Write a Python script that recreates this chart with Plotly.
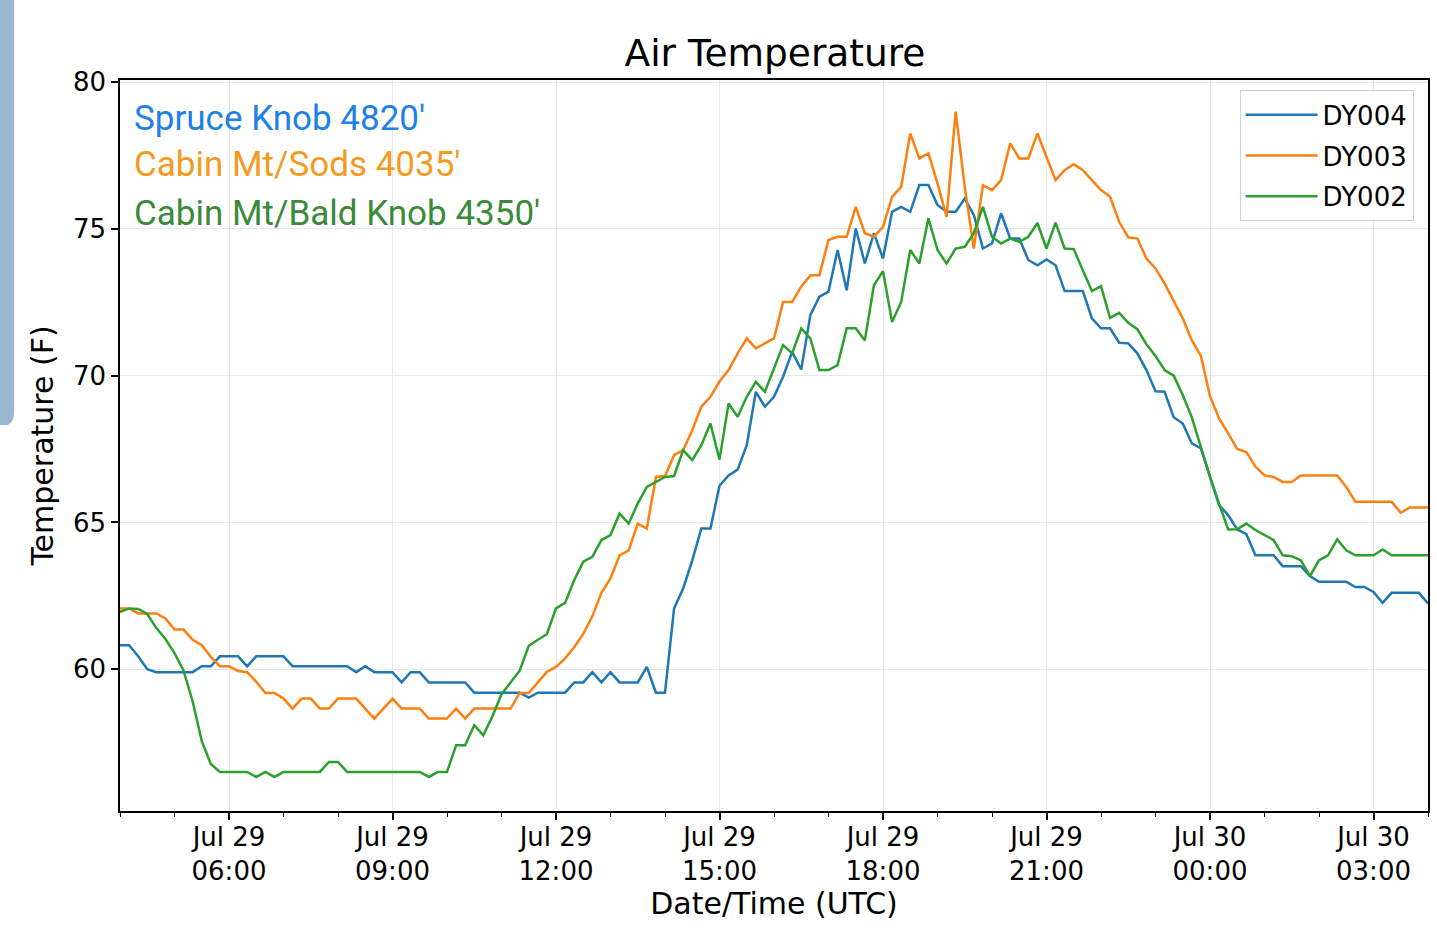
import pandas as pd
import plotly.graph_objs as go

# 10 minute readings, Jul 29 04:00 UTC -> Jul 30 04:00 UTC
start = "2019-07-29 04:00"
n_points = 145

# DY004 - Spruce Knob
dy004 = [60.82, 60.82, 60.44, 60.0, 59.9, 59.9, 59.9, 59.9, 59.9, 60.1, 60.1, 60.44,
         60.44, 60.44, 60.1, 60.44, 60.44, 60.44, 60.44, 60.1, 60.1, 60.1, 60.1, 60.1,
         60.1, 60.1, 59.9, 60.1, 59.9, 59.9, 59.9, 59.55, 59.9, 59.9, 59.55, 59.55,
         59.55, 59.55, 59.55, 59.2, 59.2, 59.2, 59.2, 59.2, 59.2, 59.03, 59.2, 59.2,
         59.2, 59.2, 59.55, 59.55, 59.9, 59.55, 59.9, 59.55, 59.55, 59.55, 60.08, 59.2,
         59.2, 62.07, 62.75, 63.71, 64.79, 64.79, 66.25, 66.6, 66.8, 67.63, 69.45, 68.94,
         69.28, 69.96, 70.81, 70.21, 72.06, 72.69, 72.86, 74.28, 72.91, 75.01, 73.82, 74.85,
         73.99, 75.58, 75.75, 75.58, 76.49, 76.49, 75.81, 75.58, 75.58, 76.03, 75.47, 74.33,
         74.5, 75.53, 74.67, 74.67, 73.94, 73.76, 73.96, 73.76, 72.88, 72.88, 72.88, 71.95,
         71.61, 71.61, 71.12, 71.1, 70.76, 70.19, 69.47, 69.45, 68.58, 68.37, 67.69, 67.52,
         66.55, 65.59, 65.25, 64.76, 64.6, 63.88, 63.88, 63.88, 63.51, 63.51, 63.51, 63.17,
         62.98, 62.98, 62.98, 62.98, 62.8, 62.8, 62.63, 62.26, 62.6, 62.6, 62.6, 62.6,
         62.24]

# DY003 - Cabin Mt/Sods
dy003 = [62.07, 62.07, 61.9, 61.9, 61.9, 61.73, 61.35, 61.35, 61.0, 60.82, 60.42, 60.1,
         60.1, 59.94, 59.9, 59.57, 59.19, 59.19, 59.0, 58.66, 59.0, 59.0, 58.66, 58.66,
         59.0, 59.0, 59.0, 58.66, 58.32, 58.66, 59.0, 58.66, 58.66, 58.66, 58.32, 58.32,
         58.32, 58.66, 58.32, 58.66, 58.66, 58.66, 58.66, 58.66, 59.19, 59.19, 59.55, 59.91,
         60.08, 60.37, 60.75, 61.2, 61.8, 62.6, 63.09, 63.88, 64.05, 64.96, 64.79, 66.55,
         66.58, 67.29, 67.46, 68.14, 68.94, 69.28, 69.8, 70.19, 70.76, 71.27, 70.93, 71.1,
         71.27, 72.51, 72.51, 73.03, 73.42, 73.42, 74.62, 74.73, 74.73, 75.75, 74.85, 74.73,
         75.07, 76.09, 76.43, 78.25, 77.4, 77.57, 76.55, 75.41, 78.99, 76.43, 74.33, 76.49,
         76.32, 76.66, 77.91, 77.4, 77.4, 78.25, 77.46, 76.66, 77.0, 77.2, 77.0, 76.66,
         76.32, 76.09, 75.24, 74.71, 74.67, 73.99, 73.65, 73.14, 72.57, 71.95, 71.2, 70.67,
         69.3, 68.54, 68.03, 67.5, 67.4, 66.9, 66.6, 66.55, 66.38, 66.38, 66.6, 66.6,
         66.6, 66.6, 66.6, 66.21, 65.7, 65.7, 65.7, 65.7, 65.7, 65.33, 65.51, 65.51,
         65.51]

# DY002 - Cabin Mt/Bald Knob
dy002 = [61.95, 62.07, 62.05, 61.88, 61.4, 61.03, 60.55, 59.95, 58.9, 57.55, 56.77, 56.5,
         56.5, 56.5, 56.5, 56.33, 56.5, 56.33, 56.5, 56.5, 56.5, 56.5, 56.5, 56.84,
         56.84, 56.5, 56.5, 56.5, 56.5, 56.5, 56.5, 56.5, 56.5, 56.5, 56.33, 56.5,
         56.5, 57.41, 57.41, 58.09, 57.75, 58.4, 59.15, 59.55, 59.95, 60.8, 61.0, 61.2,
         62.07, 62.26, 63.03, 63.66, 63.83, 64.4, 64.57, 65.3, 64.96, 65.64, 66.21, 66.38,
         66.55, 66.58, 67.46, 67.12, 67.63, 68.37, 67.14, 69.05, 68.6, 69.28, 69.79, 69.45,
         70.24, 71.04, 70.76, 71.61, 71.27, 70.19, 70.19, 70.36, 71.61, 71.61, 71.2, 73.08,
         73.56, 71.83, 72.51, 74.28, 73.82, 75.36, 74.28, 73.82, 74.33, 74.39, 74.85, 75.75,
         74.73, 74.5, 74.67, 74.56, 74.73, 75.2, 74.33, 75.21, 74.33, 74.31, 73.59, 72.88,
         73.05, 71.97, 72.14, 71.8, 71.58, 71.07, 70.67, 70.19, 70.0, 69.34, 68.58, 67.52,
         66.55, 65.64, 64.76, 64.77, 64.96, 64.74, 64.57, 64.4, 63.88, 63.85, 63.71, 63.17,
         63.71, 63.88, 64.42, 64.05, 63.88, 63.88, 63.88, 64.08, 63.88, 63.88, 63.88, 63.88,
         63.88]

x_tickvals = ["2019-07-29 06:00", "2019-07-29 09:00", "2019-07-29 12:00", "2019-07-29 15:00",
              "2019-07-29 18:00", "2019-07-29 21:00", "2019-07-30 00:00", "2019-07-30 03:00"]
x_ticktext = ["Jul 29<br>06:00", "Jul 29<br>09:00", "Jul 29<br>12:00", "Jul 29<br>15:00",
              "Jul 29<br>18:00", "Jul 29<br>21:00", "Jul 30<br>00:00", "Jul 30<br>03:00"]
y_tickvals = [60, 65, 70, 75, 80]

site_labels = ["Spruce Knob 4820'", "Cabin Mt/Sods 4035'", "Cabin Mt/Bald Knob 4350'"]
site_colors = ["#1e80e8", "#f59a1e", "#3a8a3a"]

times = pd.date_range(start, periods=n_points, freq="10min")

mpl_font = "DejaVu Sans"

traces = []
for name, vals, col in [("DY004", dy004, "#1f77b4"),
                        ("DY003", dy003, "#ff7f0e"),
                        ("DY002", dy002, "#2ca02c")]:
    traces.append(go.Scatter(x=times, y=vals, mode="lines", name=name, legendgroup=name,
                             line=dict(color=col, width=2.5)))

annotations = []
label_y = [0.948, 0.884, 0.818]
for txt, col, yy in zip(site_labels, site_colors, label_y):
    annotations.append(dict(text=txt, xref="paper", yref="paper", x=0.009, y=yy,
                            xanchor="left", yanchor="middle", showarrow=False,
                            font=dict(family="Roboto", size=35, color=col)))

layout = dict(
    width=1437, height=941,
    paper_bgcolor="white", plot_bgcolor="white",
    margin=dict(l=120, r=7, t=80, b=130),
    font=dict(family=mpl_font, size=26, color="black"),
    title=dict(text="Air Temperature", x=0.5393, xanchor="center", y=0.9437, yanchor="middle",
               font=dict(family=mpl_font, size=37.5, color="black")),
    xaxis=dict(
        title=dict(text="Date/Time (UTC)", font=dict(size=30), standoff=0),
        range=["2019-07-29 04:00", "2019-07-30 04:00"],
        tickmode="array", tickvals=x_tickvals, ticktext=x_ticktext,
        ticks="outside", ticklen=7, tickwidth=1.5, tickcolor="black",
        ticklabelstandoff=-5,
        minor=dict(tickmode="linear", tick0="2019-07-29 04:00", dtick=3600000,
                   ticks="outside", ticklen=4, tickwidth=1.2, tickcolor="black", showgrid=False),
        showline=True, linecolor="black", linewidth=1.5, mirror=True,
        showgrid=True, gridcolor="#e8e8e8", gridwidth=1.2, zeroline=False,
    ),
    yaxis=dict(
        title=dict(text="Temperature (F)", font=dict(size=30), standoff=10),
        range=[55.17, 80.07],
        tickmode="array", tickvals=y_tickvals,
        ticks="outside", ticklen=7, tickwidth=1.5, tickcolor="black",
        showline=True, linecolor="black", linewidth=1.5, mirror=True,
        showgrid=True, gridcolor="#e8e8e8", gridwidth=1.2, zeroline=False,
    ),
    legend=dict(x=0.989, y=0.986, xanchor="right", yanchor="top",
                itemwidth=72, tracegroupgap=4,
                bgcolor="rgba(255,255,255,0.9)", bordercolor="#d0d0d0", borderwidth=1,
                font=dict(family=mpl_font, size=26, color="black")),
    annotations=annotations,
    # blue-grey strip at the far left edge of the screenshot
    shapes=[dict(type="path", xref="paper", yref="paper", layer="above",
                 path="M -0.0925,1.12 L -0.0809,1.12 L -0.0809,0.548 "
                      "Q -0.0809,0.528 -0.088,0.528 L -0.0925,0.528 Z",
                 fillcolor="#9db6d0", line=dict(width=0))],
    showlegend=True,
)

fig = go.Figure(data=traces, layout=layout)
# drop the page's default body margin so the figure sits at the window corner
fig.write_html("out.html", config={"displayModeBar": False},
               post_script="document.body.style.margin='0';")
